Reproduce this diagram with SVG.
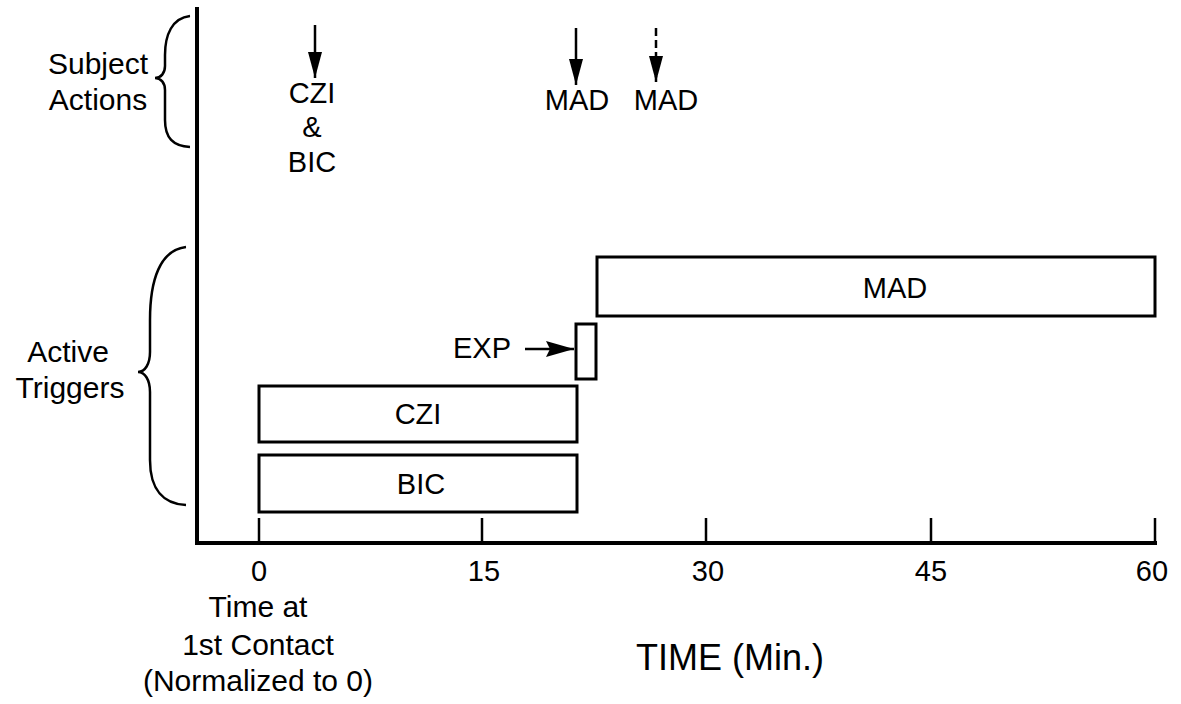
<svg xmlns="http://www.w3.org/2000/svg" width="1181" height="704" viewBox="0 0 1181 704">
<style>
text{font-family:"Liberation Sans",Arial,sans-serif;fill:#000;text-anchor:middle}
.lbl{font-size:30px}
.tk{font-size:29px}
.bx{font-size:29px}
.box{fill:#fff;stroke:#000;stroke-width:3}
.axis{stroke:#000;stroke-width:4;fill:none}
.tick{stroke:#000;stroke-width:2.5}
.brace{fill:none;stroke:#000;stroke-width:2.5}
.arr{stroke:#000;stroke-width:2.5;fill:none}
</style>
<defs>
<marker id="ah" viewBox="0 0 26 14" refX="26" refY="7" markerWidth="26" markerHeight="14" markerUnits="userSpaceOnUse" orient="auto">
<path d="M0,0 L26,7 L0,14 z" fill="#000"/>
</marker>
<marker id="ahs" viewBox="0 0 28 16" refX="28" refY="8" markerWidth="28" markerHeight="16" markerUnits="userSpaceOnUse" orient="auto">
<path d="M0,0 L28,8 L0,16 L4,8 z" fill="#000"/>
</marker>
</defs>
<rect width="1181" height="704" fill="#fff"/>
<g id="axes">
<path class="axis" d="M197,7 L197,543 L1157,543"/>
<line class="tick" x1="259" y1="518" x2="259" y2="543"/>
<line class="tick" x1="482" y1="518" x2="482" y2="543"/>
<line class="tick" x1="706" y1="518" x2="706" y2="543"/>
<line class="tick" x1="931" y1="518" x2="931" y2="543"/>
<line class="tick" x1="1155" y1="518" x2="1155" y2="543"/>
<text class="tk" x="259" y="581">0</text>
<text class="tk" x="484" y="581">15</text>
<text class="tk" x="708" y="581">30</text>
<text class="tk" x="931" y="581">45</text>
<text class="tk" x="1152" y="581">60</text>
<text class="lbl" x="258" y="617">Time at</text>
<text class="lbl" x="258" y="655">1st Contact</text>
<text class="lbl" x="258" y="691">(Normalized to 0)</text>
<text x="730" y="670" style="font-size:36px">TIME (Min.)</text>
</g>
<g id="subject-actions">
<path class="brace" d="M190,16 C172,18 165,35 165,55 L165,66 C165,73 161,78 155,78 C161,78 165,83 165,90 L165,120 C165,138 173,146 190,147"/>
<text class="lbl" x="98" y="74">Subject</text>
<text class="lbl" x="98" y="110">Actions</text>
</g>
<g id="active-triggers">
<path class="brace" d="M186,247 C160,250 150,280 150,320 L150,352 C150,364 145,372 138,372 C145,372 150,380 150,392 L150,460 C150,490 164,504 186,505"/>
<text class="lbl" x="68" y="362">Active</text>
<text class="lbl" x="70" y="398">Triggers</text>
</g>
<g id="connectors">
<line class="arr" x1="315" y1="25" x2="315" y2="78" marker-end="url(#ah)"/>
<line class="arr" x1="576" y1="28" x2="576" y2="85" marker-end="url(#ah)"/>
<line class="arr" x1="656" y1="28" x2="656" y2="82" stroke-dasharray="8,4" marker-end="url(#ah)"/>
<line class="arr" x1="525" y1="349" x2="574" y2="349" stroke-width="3.5" marker-end="url(#ahs)"/>
</g>
<g id="label-czi-bic">
<text class="bx" x="312" y="103">CZI</text>
<text class="bx" x="312" y="137">&amp;</text>
<text class="bx" x="312" y="172">BIC</text>
</g>
<g id="label-mad1"><text class="bx" x="577" y="110">MAD</text></g>
<g id="label-mad2"><text class="bx" x="666" y="110">MAD</text></g>
<g id="box-mad">
<rect class="box" x="597" y="257" width="558" height="59"/>
<text class="bx" x="895" y="298">MAD</text>
</g>
<g id="box-exp">
<rect class="box" x="576" y="324" width="20" height="55"/>
<text class="bx" x="482" y="358">EXP</text>
</g>
<g id="box-czi">
<rect class="box" x="259" y="386" width="318" height="56"/>
<text class="bx" x="418" y="424">CZI</text>
</g>
<g id="box-bic">
<rect class="box" x="259" y="455" width="318" height="57"/>
<text class="bx" x="421" y="494">BIC</text>
</g>
</svg>
